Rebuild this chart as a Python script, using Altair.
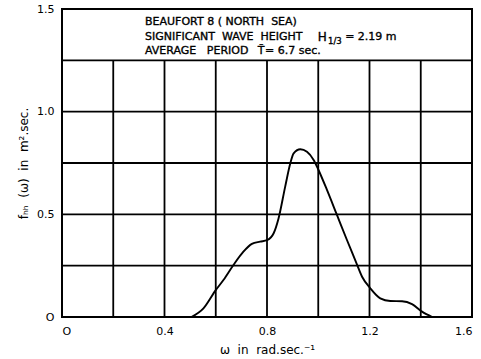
import altair as alt
import pandas as pd

# Wave spectrum, Beaufort 8 (North Sea)
omega = [0.505, 0.552, 0.600, 0.630, 0.669, 0.708, 0.741, 0.773, 0.800, 0.826,
         0.845, 0.871, 0.891, 0.904, 0.930, 0.956, 0.982, 1.001, 1.034, 1.073,
         1.112, 1.145, 1.171, 1.203, 1.242, 1.281, 1.327, 1.366, 1.405, 1.445]
spectrum = [0.0, 0.042, 0.131, 0.180, 0.253, 0.318, 0.356, 0.367, 0.374, 0.408,
            0.480, 0.635, 0.749, 0.797, 0.817, 0.805, 0.765, 0.716, 0.619, 0.497,
            0.375, 0.275, 0.196, 0.140, 0.091, 0.078, 0.077, 0.063, 0.026, 0.0]

# grid
grid_x = [0.2, 0.4, 0.6, 0.8, 1.0, 1.2, 1.4]
grid_y = [0.25, 0.5, 0.75, 1.0, 1.25]
grid_x_top = 1.25

x_ticks = [0, 0.4, 0.8, 1.2, 1.6]
y_ticks = [0, 0.5, 1.0, 1.5]

NB = "\u00a0"  # non-breaking space keeps wide word gaps

# legend box text
note_text = [f"BEAUFORT 8 ({NB}NORTH{NB}{NB}SEA)",
             f"SIGNIFICANT{NB}{NB}WAVE{NB}{NB}HEIGHT", "H", "1/3", "= 2.19 m",
             f"AVERAGE{NB}{NB}{NB}PERIOD", "T\u0304", "= 6.7 sec."]
note_x = [0.324, 0.324, 0.998, 1.038, 1.105, 0.324, 0.764, 0.792]
note_y = [1.437, 1.365, 1.365, 1.345, 1.365, 1.296, 1.296, 1.296]
note_size = [11, 11, 12, 8.5, 11, 11, 11, 11]

FONT = "DejaVu Sans"

curve_df = pd.DataFrame({"omega": omega, "S": spectrum})
vgrid_df = pd.DataFrame({"x": grid_x, "y0": [0] * len(grid_x), "y1": [grid_x_top] * len(grid_x)})
hgrid_df = pd.DataFrame({"y": grid_y})
note_df = pd.DataFrame({"text": note_text, "x": note_x, "y": note_y, "size": note_size})

xscale = alt.Scale(domain=[0, 1.6], nice=False, zero=False)
yscale = alt.Scale(domain=[0, 1.5], nice=False, zero=False)

xaxis = alt.Axis(values=x_ticks, title=f"\u03c9{NB}{NB}in{NB}{NB}rad.sec.\u207b\u00b9",
                 labelExpr="datum.value == 0 ? 'O' : format(datum.value, '.1f')",
                 grid=False, ticks=False, domain=False, labelPadding=8, titlePadding=8)
yaxis = alt.Axis(values=y_ticks,
                 title=f"f\u2095\u2095{NB}{NB}(\u03c9){NB}{NB}in{NB}{NB}m\u00b2.sec.",
                 labelExpr="datum.value == 0 ? 'O' : format(datum.value, '.1f')",
                 grid=False, ticks=False, domain=False, labelPadding=8, titlePadding=6)

curve = alt.Chart(curve_df).mark_line(color="black", strokeWidth=1.9,
                                      interpolate="monotone").encode(
    x=alt.X("omega:Q", scale=xscale, axis=xaxis),
    y=alt.Y("S:Q", scale=yscale, axis=yaxis),
)

vgrid = alt.Chart(vgrid_df).mark_rule(color="black", strokeWidth=1.8).encode(
    x=alt.X("x:Q", scale=xscale), y=alt.Y("y0:Q", scale=yscale), y2="y1:Q"
)

hgrid = alt.Chart(hgrid_df).mark_rule(color="black", strokeWidth=1.8).encode(
    y=alt.Y("y:Q", scale=yscale)
)

notes = alt.Chart(note_df).mark_text(align="left", baseline="middle", font=FONT,
                                     color="black", stroke="black",
                                     strokeWidth=0.35).encode(
    x=alt.X("x:Q", scale=xscale), y=alt.Y("y:Q", scale=yscale), text="text:N",
    size=alt.Size("size:Q", scale=None, legend=None),
)

chart = alt.layer(vgrid, hgrid, curve, notes).properties(
    width=410, height=308,
    autosize=alt.AutoSizeParams(type="none"),
    padding={"left": 62, "top": 9, "right": 9, "bottom": 42},
    background="white",
).configure_view(stroke="black", strokeWidth=2).configure_axis(
    labelFont=FONT, titleFont=FONT, labelFontSize=11, titleFontSize=12,
    labelColor="black", titleColor="black", titleFontWeight="normal",
)

chart.save("out.html", embed_options={"renderer": "svg", "actions": False})
